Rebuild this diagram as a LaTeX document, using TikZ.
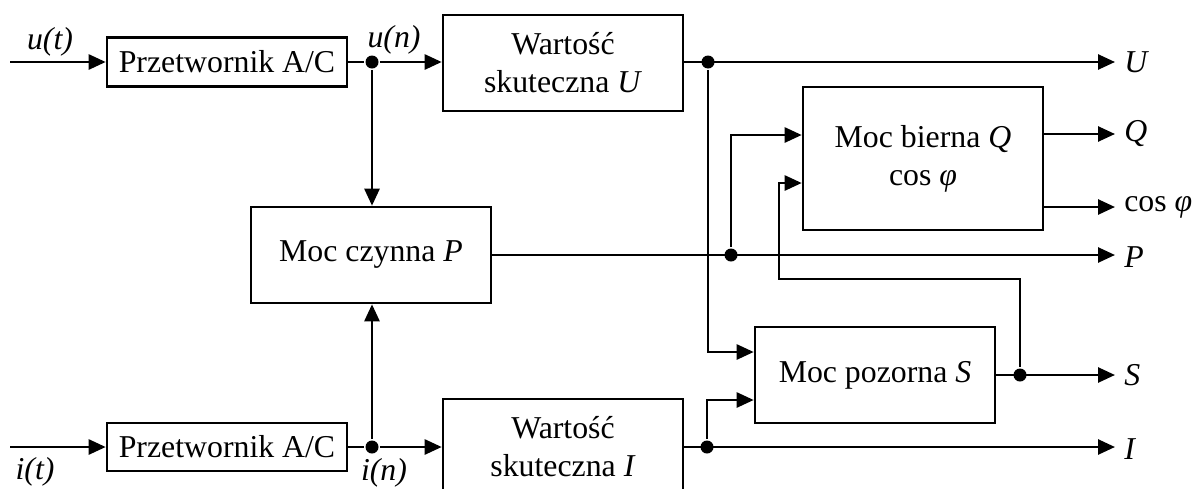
\documentclass[tikz,border=0pt]{standalone}
\usepackage{fontspec}
\setmainfont{Liberation Serif}
\usetikzlibrary{arrows.meta}
\begin{document}
\begin{tikzpicture}[x=1pt,y=-1pt,
  line width=2.6pt,
  every node/.style={font=\fontsize{31.8}{38}\selectfont},
  blk/.style={draw, rectangle, inner sep=0pt, minimum width=240pt, align=center},
  arr/.style={-{Triangle[length=17pt,width=15pt]}},
  dot/.style={circle, fill=black, inner sep=0pt, minimum size=13pt},
  lbl/.style={inner sep=0pt, anchor=west}]
\clip (0,0) rectangle (1193,488);
\useasboundingbox (0,0) rectangle (1193,488);
% blocks
\node[blk, minimum height=49pt] (adcU) at (227,62) {Przetwornik A/C};
\node[blk, minimum height=48pt] (adcI) at (227,447) {Przetwornik A/C};
\node[blk, minimum height=96pt] (wU) at (563,63) {Wartość\\skuteczna \textit{U}};
\node[blk, minimum height=96pt] (wI) at (563,447) {Wartość\\skuteczna \textit{I}};
\node[blk, minimum height=96pt] (pB) at (371,255) {Moc czynna \textit{P}};
\node[blk, minimum height=143pt] (qB) at (923,158.5) {Moc bierna \textit{Q}\\cos \textit{φ}};
\node[blk, minimum height=96pt] (sB) at (875,375) {Moc pozorna \textit{S}};
% coordinates
\coordinate (uin) at (10,62);
\coordinate (iin) at (10,447);
\node[dot] (ju) at (372,62) {};
\node[dot] (ji) at (372,447) {};
\node[dot] (jU) at (708,62) {};
\node[dot] (jP) at (731,255) {};
\node[dot] (jS) at (1020,375) {};
\node[dot] (jI) at (707,447) {};
\coordinate (oU) at (1115,62);
\coordinate (oQ) at (1115,134);
\coordinate (oC) at (1115,207);
\coordinate (oP) at (1115,255);
\coordinate (oS) at (1115,375);
\coordinate (oI) at (1115,447);
% input side
\draw[arr] (uin) -- (adcU.west);
\draw[arr] (iin) -- (adcI.west);
\draw (adcU.east) -- (ju);
\draw[arr] (ju) -- (wU.west |- ju);
\draw (adcI.east) -- (ji);
\draw[arr] (ji) -- (wI.west);
\draw[arr] (ju) -- (ju |- pB.north);
\draw[arr] (ji) -- (ji |- pB.south);
% outputs
\draw[arr] (wU.east |- oU) -- (oU);
\draw[arr] (pB.east |- oP) -- (oP);
\draw[arr] (wI.east |- oI) -- (oI);
\draw[arr] (sB.east) -- (oS);
\draw[arr] (qB.east |- oQ) -- (oQ);
\draw[arr] (qB.east |- oC) -- (oC);
% internal
\draw[arr] (jU) -- (708,352) -- (sB.west |- 0,352);
\draw[arr] (jI) -- (707,400) -- (sB.west |- 0,400);
\draw[arr] (jP) -- (731,135) -- (qB.west |- 0,135);
\draw[arr] (jS) -- (1020,279) -- (779,279) -- (779,183) -- (qB.west |- 0,183);
% labels
\node[inner sep=0pt] (lut) at (50,42) {\textit{u(t)}};
\node[inner sep=0pt] (lun) at (394,40) {\textit{u(n)}};
\node[inner sep=0pt] (lit) at (35,472) {\textit{i(t)}};
\node[inner sep=0pt] (lin) at (384,473) {\textit{i(n)}};
\node[lbl] (lU) at (1123,62) {\textit{U}};
\node[lbl] (lQ) at (1123,134) {\textit{Q}};
\node[lbl] (lC) at (1123,207) {cos \textit{φ}};
\node[lbl] (lP) at (1123,257) {\textit{P}};
\node[lbl] (lS) at (1123,375) {\textit{S}};
\node[lbl] (lI) at (1123,449) {\textit{I}};
\end{tikzpicture}
\end{document}
